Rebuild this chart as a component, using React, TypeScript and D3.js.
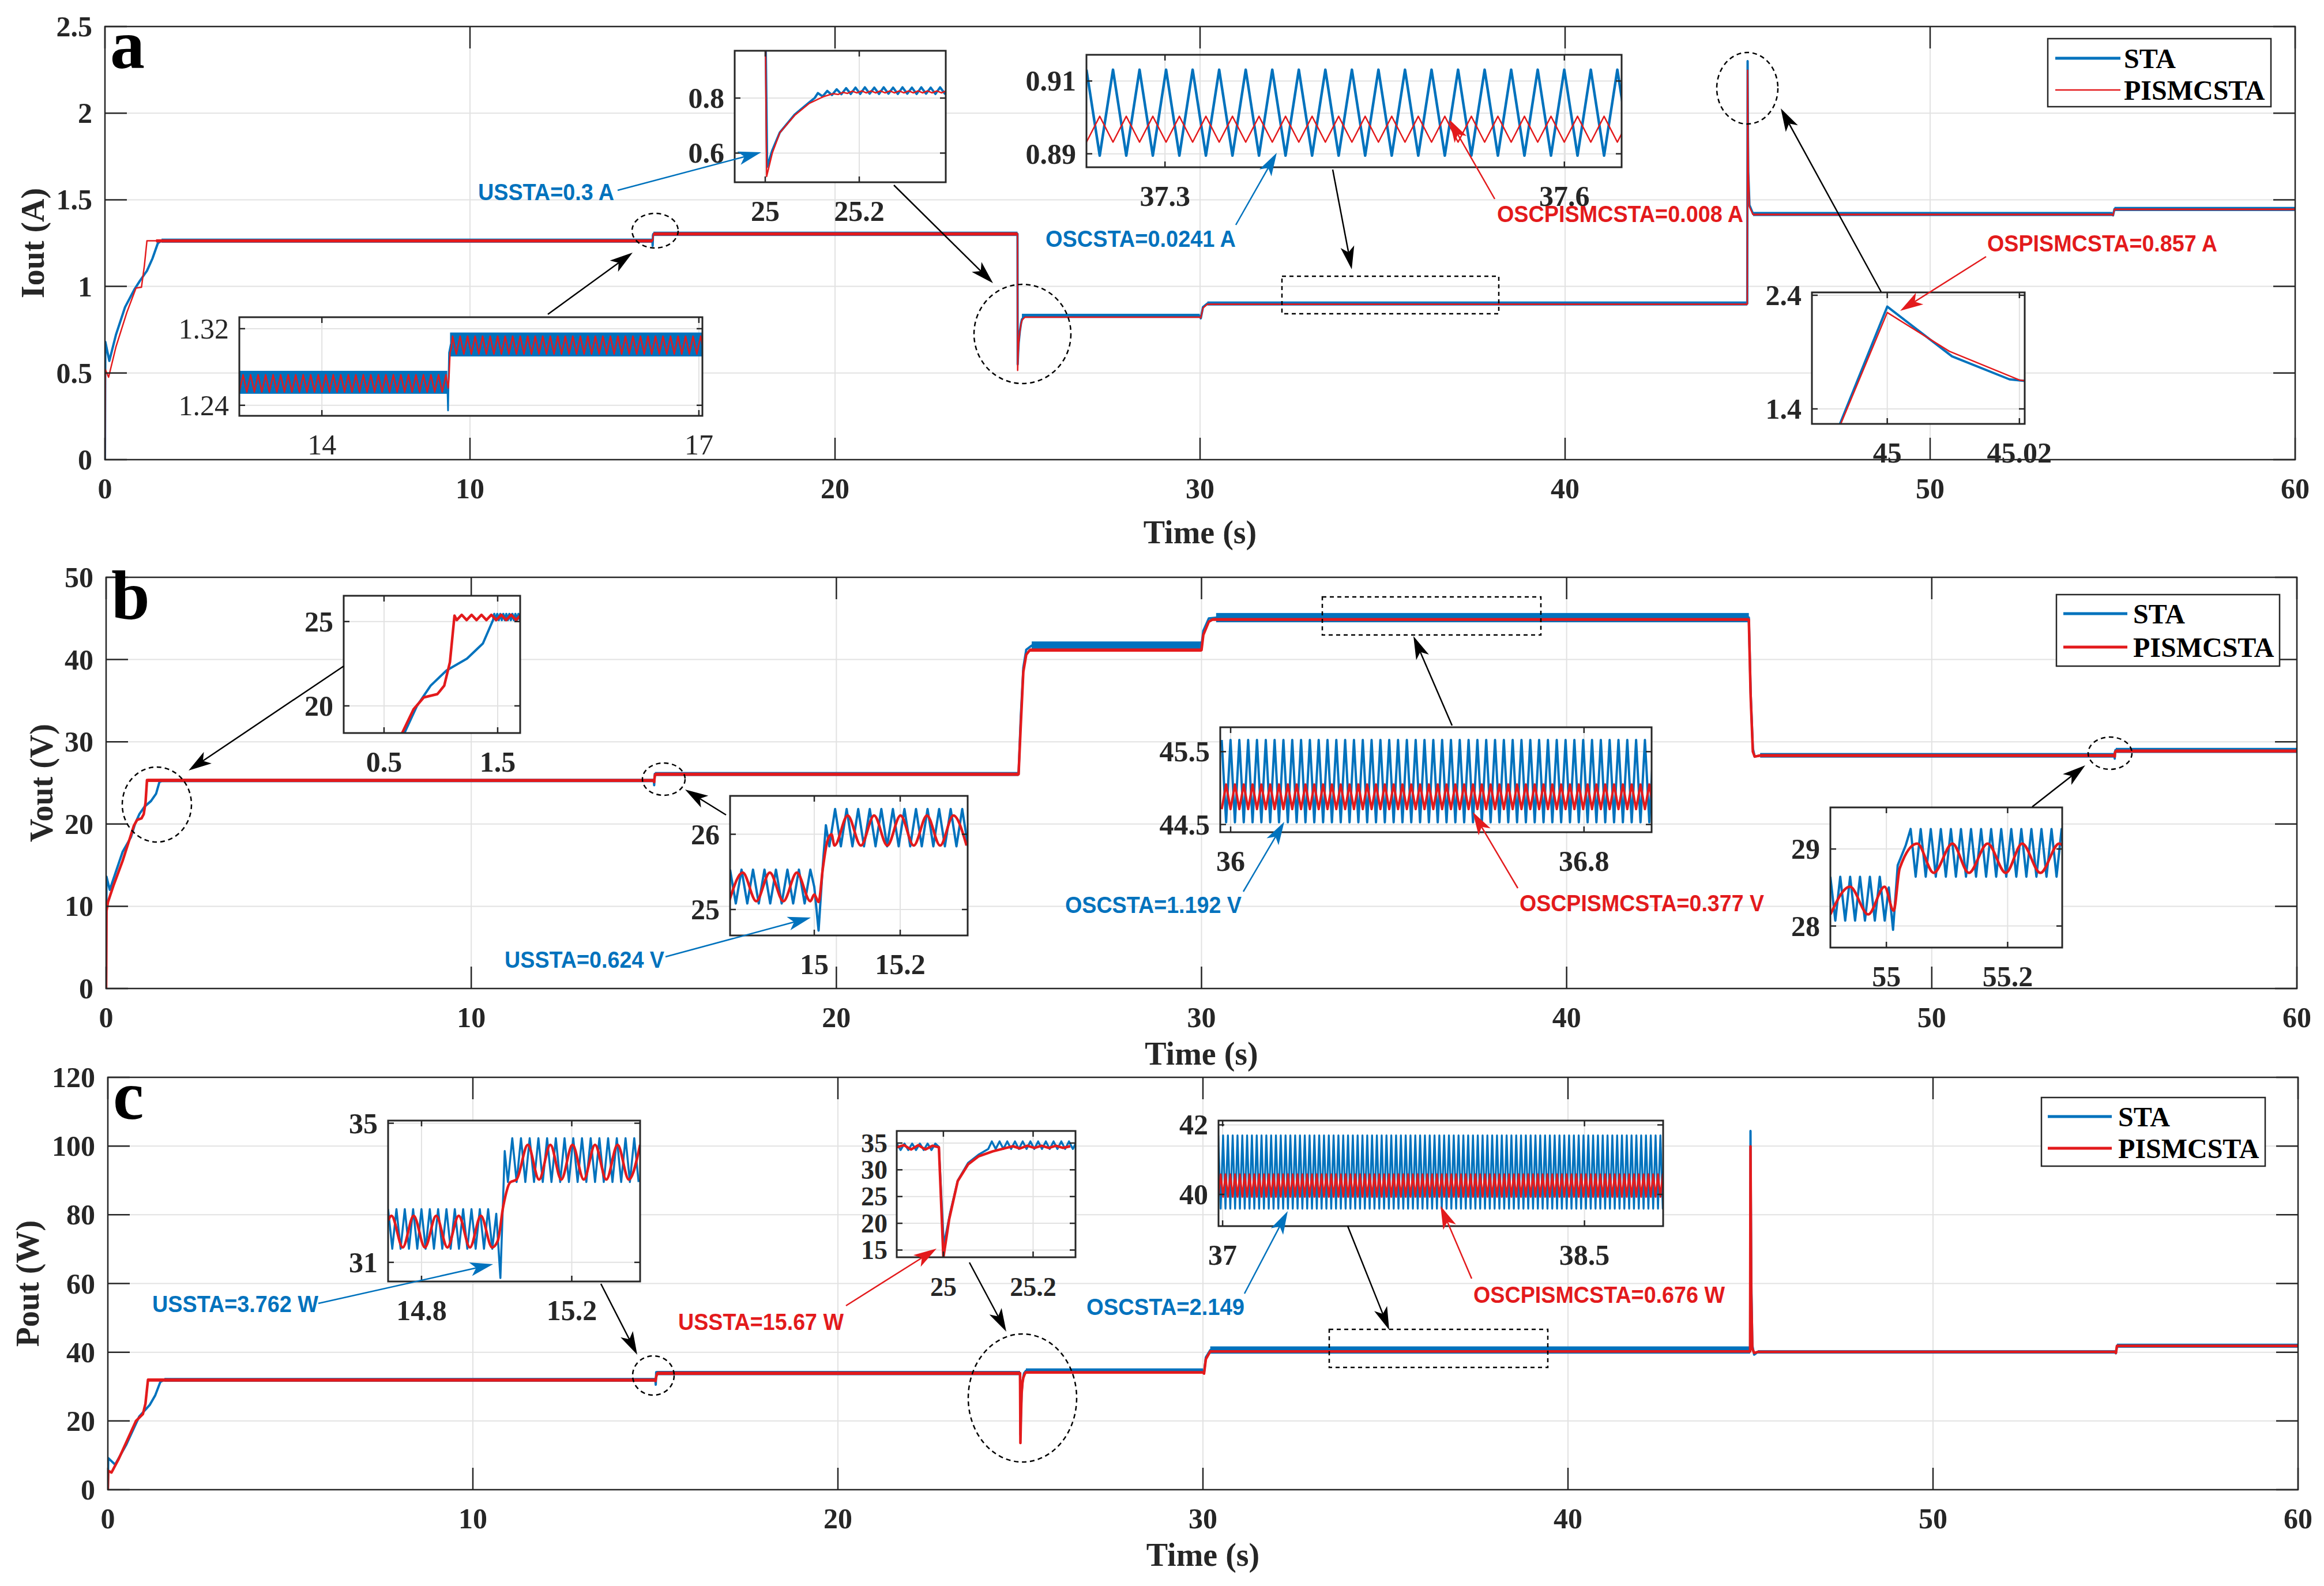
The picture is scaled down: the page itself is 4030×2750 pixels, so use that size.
import React from 'react';
import * as d3 from 'd3';

type Pt = [number, number];
type Band = [number, number, number, number]; // t0, t1, lo, hi (dense ripple drawn as a filled band)
type Zig = { t0: number; dt: number; v: number[] };

// colours and fonts (MATLAB-like)
const BLUE = '#0072BD';
const RED = '#E31A1C';
const INK = '#262626';
const GRID = '#E2E2E2';
const SERIF = '"Times New Roman", "Liberation Serif", serif';
const NARROW = '"Liberation Sans Narrow", "Arial Narrow", "Liberation Sans", Arial, sans-serif';

// axis ticks
const TIME_TICKS = [0, 10, 20, 30, 40, 50, 60];
const IOUT_TICKS = [0, 0.5, 1, 1.5, 2, 2.5];
const VOUT_TICKS = [0, 10, 20, 30, 40, 50];
const POUT_TICKS = [0, 20, 40, 60, 80, 100, 120];
const LEGEND_NAMES = ['STA', 'PISMCSTA'];

// ---------- panel a : Iout ----------
const IOUT_STA: Pt[] = [
  [0, 0], [0.01, 0.68], [0.12, 0.57], [0.3, 0.72], [0.55, 0.88], [0.8, 0.98], [0.95, 1.03], [1.15, 1.09],
  [1.3, 1.16], [1.45, 1.25], [1.55, 1.264], [14.998, 1.264], [15.004, 1.2346], [15.012, 1.295], [15.025, 1.3035],
  [24.999, 1.3035], [25.004, 0.55], [25.015, 0.61], [25.031, 0.675], [25.0625, 0.74], [25.094, 0.785],
  [25.12, 0.81], [25.2, 0.83], [29.99, 0.83], [30.02, 0.816], [30.08, 0.88], [30.2, 0.901], [44.9903, 0.901],
  [45.0, 2.3], [45.0098, 1.862], [45.0185, 1.66], [45.05, 1.47], [45.15, 1.418], [54.99, 1.418], [55.01, 1.41],
  [55.05, 1.447], [60, 1.447],
];
const IOUT_STA_BANDS: Band[] = [
  [1.55, 14.998, 1.252, 1.276], [15.025, 24.999, 1.291, 1.316], [25.12, 29.99, 0.818, 0.842],
  [30.2, 44.99, 0.8895, 0.9131], [45.15, 54.99, 1.406, 1.43], [55.05, 60, 1.435, 1.459],
];
const IOUT_PI: Pt[] = [
  [0, 0], [0.01, 0.52], [0.1, 0.476], [0.3, 0.65], [0.6, 0.85], [0.85, 0.99], [1.0, 0.995], [1.08, 1.12],
  [1.15, 1.263], [14.998, 1.263], [15.01, 1.27], [15.02, 1.295], [15.03, 1.303], [24.999, 1.303],
  [25.003, 0.515], [25.015, 0.6], [25.031, 0.674], [25.0625, 0.737], [25.094, 0.781], [25.125, 0.806],
  [25.2, 0.822], [29.99, 0.822], [30.02, 0.818], [30.08, 0.875], [30.2, 0.897], [44.9903, 0.897],
  [45.0, 2.248], [45.0094, 1.907], [45.02, 1.654], [45.05, 1.46], [45.15, 1.415], [54.99, 1.415],
  [55.01, 1.41], [55.05, 1.445], [60, 1.445],
];
const IOUT_PI_BANDS: Band[] = [
  [1.4, 14.998, 1.2538, 1.2719], [15.03, 24.999, 1.2935, 1.3122], [25.2, 29.99, 0.819, 0.826],
  [30.2, 44.99, 0.893, 0.9003], [45.15, 54.99, 1.41, 1.42], [55.05, 60, 1.44, 1.45],
];

// inset a1 (25 .. 25.2)
const A1_STA_PTS: Pt[] = [[24.999, 1.3035], [25.004, 0.55], [25.015, 0.61], [25.031, 0.675], [25.0625, 0.74], [25.094, 0.785], [25.105, 0.8]];
const A1_STA_RIP: Zig = { t0: 25.112, dt: 0.01, v: [
  0.818, 0.806, 0.826, 0.811, 0.832, 0.814, 0.836, 0.815, 0.838, 0.815, 0.839, 0.816, 0.838, 0.815, 0.839,
  0.816, 0.838, 0.815, 0.839, 0.816, 0.838, 0.815, 0.839, 0.816, 0.838, 0.815, 0.839, 0.816, 0.838] };
const A1_PI_PTS: Pt[] = [[24.999, 1.303], [25.003, 0.515], [25.015, 0.6], [25.031, 0.674], [25.0625, 0.737], [25.094, 0.781], [25.125, 0.806]];
const A1_PI_RIP: Zig = { t0: 25.135, dt: 0.01, v: [
  0.811, 0.816, 0.813, 0.821, 0.817, 0.825, 0.819, 0.826, 0.819, 0.826, 0.819, 0.826, 0.819, 0.826,
  0.819, 0.826, 0.819, 0.826, 0.819, 0.826, 0.819, 0.826, 0.819, 0.826, 0.819, 0.826] };

// inset a2 (37.3 .. 37.6)
const A2_STA: Zig = { t0: 37.241, dt: 0.00997, v: [
  0.9131, 0.8895, 0.9131, 0.8895, 0.9131, 0.8895, 0.9131, 0.8895, 0.9131, 0.8895,
  0.9131, 0.8895, 0.9131, 0.8895, 0.9131, 0.8895, 0.9131, 0.8895, 0.9131, 0.8895,
  0.9131, 0.8895, 0.9131, 0.8895, 0.9131, 0.8895, 0.9131, 0.8895, 0.9131, 0.8895,
  0.9131, 0.8895, 0.9131, 0.8895, 0.9131, 0.8895, 0.9131, 0.8895, 0.9131, 0.8895,
  0.9131, 0.8895] };
const A2_PI: Zig = { t0: 37.241, dt: 0.00997, v: [
  0.8932, 0.9003, 0.8932, 0.9003, 0.8932, 0.9003, 0.8932, 0.9003, 0.8932, 0.9003,
  0.8932, 0.9003, 0.8932, 0.9003, 0.8932, 0.9003, 0.8932, 0.9003, 0.8932, 0.9003,
  0.8932, 0.9003, 0.8932, 0.9003, 0.8932, 0.9003, 0.8932, 0.9003, 0.8932, 0.9003,
  0.8932, 0.9003, 0.8932, 0.9003, 0.8932, 0.9003, 0.8932, 0.9003, 0.8932, 0.9003,
  0.8932, 0.9003] };

// inset a3 (14 .. 17)
const A3_STA_PTS: Pt[] = [[13.343, 1.264], [14.998, 1.264], [15.004, 1.2346], [15.012, 1.295], [15.025, 1.3035], [17.03, 1.3035]];
const A3_STA_BANDS: Band[] = [[13.343, 14.998, 1.252, 1.276], [15.02, 17.03, 1.291, 1.316]];
const A3_PI_PRE: Zig = { t0: 13.343, dt: 0.0299, v: [
  1.2538, 1.2719, 1.2538, 1.2719, 1.2538, 1.2719, 1.2538, 1.2719, 1.2538, 1.2719,
  1.2538, 1.2719, 1.2538, 1.2719, 1.2538, 1.2719, 1.2538, 1.2719, 1.2538, 1.2719,
  1.2538, 1.2719, 1.2538, 1.2719, 1.2538, 1.2719, 1.2538, 1.2719, 1.2538, 1.2719,
  1.2538, 1.2719, 1.2538, 1.2719, 1.2538, 1.2719, 1.2538, 1.2719, 1.2538, 1.2719,
  1.2538, 1.2719, 1.2538, 1.2719, 1.2538, 1.2719, 1.2538, 1.2719, 1.2538, 1.2719,
  1.2538, 1.2719, 1.2538, 1.2719, 1.2538, 1.2719] };
const A3_PI_MID: Pt[] = [[15.005, 1.258], [15.012, 1.27], [15.02, 1.295], [15.03, 1.3]];
const A3_PI_POST: Zig = { t0: 15.04, dt: 0.0299, v: [
  1.3122, 1.2935, 1.3122, 1.2935, 1.3122, 1.2935, 1.3122, 1.2935, 1.3122, 1.2935,
  1.3122, 1.2935, 1.3122, 1.2935, 1.3122, 1.2935, 1.3122, 1.2935, 1.3122, 1.2935,
  1.3122, 1.2935, 1.3122, 1.2935, 1.3122, 1.2935, 1.3122, 1.2935, 1.3122, 1.2935,
  1.3122, 1.2935, 1.3122, 1.2935, 1.3122, 1.2935, 1.3122, 1.2935, 1.3122, 1.2935,
  1.3122, 1.2935, 1.3122, 1.2935, 1.3122, 1.2935, 1.3122, 1.2935, 1.3122, 1.2935,
  1.3122, 1.2935, 1.3122, 1.2935, 1.3122, 1.2935, 1.3122, 1.2935, 1.3122, 1.2935,
  1.3122, 1.2935, 1.3122, 1.2935, 1.3122, 1.2935, 1.3122, 1.2935] };

// ---------- panel b : Vout ----------
const VOUT_STA: Pt[] = [
  [0, 0], [0.01, 13.6], [0.1, 12.0], [0.45, 16.6], [0.68, 18.4], [0.79, 20.0], [0.91, 21.2], [1.05, 22.1],
  [1.23, 22.8], [1.37, 23.7], [1.46, 25.1], [1.55, 25.3], [15.004, 25.3], [15.01, 24.72], [15.02, 25.6],
  [15.027, 26.1], [24.99, 26.1], [25.05, 33], [25.12, 39], [25.2, 41.2], [25.35, 41.7], [30.0, 41.7],
  [30.05, 43.5], [30.2, 45.0], [30.4, 45.1], [44.99, 45.1], [45.04, 36], [45.1, 29.2], [45.15, 28.2],
  [45.3, 28.35], [55.004, 28.35], [55.011, 27.95], [55.0187, 28.79], [55.032, 29.0], [60, 28.95],
];
const VOUT_STA_BANDS: Band[] = [
  [1.47, 15, 25.08, 25.5], [15.035, 24.99, 25.84, 26.33], [25.35, 30, 41.2, 42.2],
  [30.4, 44.99, 44.53, 45.66], [45.3, 55, 28.07, 28.64], [55.04, 60, 28.64, 29.26],
];
const VOUT_PI: Pt[] = [
  [0, 0], [0.01, 9.4], [0.05, 10.5], [0.2, 12.5], [0.45, 15.5], [0.66, 18.4], [0.76, 19.8], [0.85, 20.5],
  [0.97, 20.7], [1.03, 21.2], [1.08, 22.6], [1.12, 25.35], [15.0, 25.3], [15.01, 25.1], [15.02, 25.55],
  [15.03, 25.9], [15.04, 26.05], [24.99, 26.05], [25.05, 32], [25.12, 38.5], [25.2, 40.6], [25.3, 41.15],
  [30, 41.15], [30.05, 43], [30.2, 44.6], [30.3, 44.86], [44.99, 44.86], [45.04, 35.5], [45.1, 28.8],
  [45.15, 28.2], [45.3, 28.33], [54.997, 28.33], [55.012, 28.2], [55.02, 28.75], [55.051, 28.88], [60, 28.88],
];
const VOUT_PI_BANDS: Band[] = [
  [1.14, 15, 25.11, 25.49], [15.047, 24.99, 25.85, 26.25], [25.3, 30, 40.95, 41.35],
  [30.3, 44.99, 44.71, 45.05], [45.3, 55, 28.15, 28.51], [55.051, 60, 28.69, 29.07],
];

// inset b1 (0.5 .. 1.5)
const B1_STA_PTS: Pt[] = [[0.45, 16.6], [0.68, 18.4], [0.79, 20.0], [0.91, 21.2], [1.05, 22.1], [1.23, 22.8], [1.37, 23.7], [1.46, 25.1]];
const B1_STA_RIP: Zig = { t0: 1.47, dt: 0.0133, v: [
  25.45, 25.09, 25.45, 25.09, 25.45, 25.09, 25.45, 25.09, 25.45, 25.09,
  25.45, 25.09, 25.45, 25.09, 25.45, 25.09, 25.45, 25.09, 25.45] };
const B1_PI_PTS: Pt[] = [[0.45, 15.5], [0.66, 18.4], [0.76, 19.8], [0.85, 20.5], [0.97, 20.7], [1.03, 21.2], [1.08, 22.6], [1.12, 25.35]];
const B1_PI_RIP: Zig = { t0: 1.14, dt: 0.0435, v: [
  25.09, 25.4, 25.09, 25.4, 25.09, 25.4, 25.09, 25.4, 25.09, 25.4, 25.09, 25.4, 25.09, 25.4] };

// inset b2 (15 .. 15.2)
const B2_STA_PRE: Zig = { t0: 14.804, dt: 0.01335, v: [
  25.53, 25.08, 25.53, 25.08, 25.53, 25.08, 25.53, 25.08, 25.53, 25.08, 25.53, 25.08, 25.53, 25.08, 25.53] };
const B2_STA_MID: Pt[] = [[15.0, 25.3], [15.01, 24.72], [15.02, 25.6], [15.027, 26.12]];
const B2_STA_POST: Zig = { t0: 15.035, dt: 0.01345, v: [
  25.84, 26.335, 25.84, 26.335, 25.84, 26.335, 25.84, 26.335, 25.84, 26.335,
  25.84, 26.335, 25.84, 26.335, 25.84, 26.335, 25.84, 26.335, 25.84, 26.335,
  25.84, 26.335, 25.84, 26.335, 25.84] };
const B2_PI_PRE: Zig = { t0: 14.802, dt: 0.0315, v: [25.11, 25.49, 25.11, 25.49, 25.11, 25.49, 25.11] };
const B2_PI_MID: Pt[] = [[15.0, 25.2], [15.01, 25.1], [15.02, 25.55], [15.03, 25.9], [15.04, 26.0]];
const B2_PI_POST: Zig = { t0: 15.047, dt: 0.03075, v: [25.85, 26.25, 25.85, 26.25, 25.85, 26.25, 25.85, 26.25, 25.85, 26.25, 25.85] };

// inset b3 (36 .. 36.8)
const B3_STA: Zig = { t0: 35.9798, dt: 0.00998, v: [
  45.66, 44.53, 45.66, 44.53, 45.66, 44.53, 45.66, 44.53, 45.66, 44.53, 45.66, 44.53, 45.66, 44.53, 45.66, 44.53, 45.66, 44.53, 45.66, 44.53,
  45.66, 44.53, 45.66, 44.53, 45.66, 44.53, 45.66, 44.53, 45.66, 44.53, 45.66, 44.53, 45.66, 44.53, 45.66, 44.53, 45.66, 44.53, 45.66, 44.53,
  45.66, 44.53, 45.66, 44.53, 45.66, 44.53, 45.66, 44.53, 45.66, 44.53, 45.66, 44.53, 45.66, 44.53, 45.66, 44.53, 45.66, 44.53, 45.66, 44.53,
  45.66, 44.53, 45.66, 44.53, 45.66, 44.53, 45.66, 44.53, 45.66, 44.53, 45.66, 44.53, 45.66, 44.53, 45.66, 44.53, 45.66, 44.53, 45.66, 44.53,
  45.66, 44.53, 45.66, 44.53, 45.66, 44.53, 45.66, 44.53, 45.66, 44.53, 45.66, 44.53, 45.66, 44.53, 45.66, 44.53, 45.66, 44.53, 45.66] };
const B3_PI: Zig = { t0: 35.9798, dt: 0.00998, v: [
  44.71, 45.05, 44.71, 45.05, 44.71, 45.05, 44.71, 45.05, 44.71, 45.05, 44.71, 45.05, 44.71, 45.05, 44.71, 45.05, 44.71, 45.05, 44.71, 45.05,
  44.71, 45.05, 44.71, 45.05, 44.71, 45.05, 44.71, 45.05, 44.71, 45.05, 44.71, 45.05, 44.71, 45.05, 44.71, 45.05, 44.71, 45.05, 44.71, 45.05,
  44.71, 45.05, 44.71, 45.05, 44.71, 45.05, 44.71, 45.05, 44.71, 45.05, 44.71, 45.05, 44.71, 45.05, 44.71, 45.05, 44.71, 45.05, 44.71, 45.05,
  44.71, 45.05, 44.71, 45.05, 44.71, 45.05, 44.71, 45.05, 44.71, 45.05, 44.71, 45.05, 44.71, 45.05, 44.71, 45.05, 44.71, 45.05, 44.71, 45.05,
  44.71, 45.05, 44.71, 45.05, 44.71, 45.05, 44.71, 45.05, 44.71, 45.05, 44.71, 45.05, 44.71, 45.05, 44.71, 45.05, 44.71, 45.05, 44.71] };

// inset b4 (55 .. 55.2)
const B4_STA_PRE: Zig = { t0: 54.9076, dt: 0.00815, v: [28.64, 28.07, 28.64, 28.07, 28.64, 28.07, 28.64, 28.07, 28.64, 28.07, 28.64, 28.07] };
const B4_STA_MID: Pt[] = [[55.004, 28.5], [55.011, 27.95], [55.0187, 28.79], [55.032, 29.05]];
const B4_STA_POST: Zig = { t0: 55.04, dt: 0.0083, v: [
  29.26, 28.64, 29.26, 28.64, 29.26, 28.64, 29.26, 28.64, 29.26, 28.64, 29.26, 28.64, 29.26, 28.64, 29.26, 28.64,
  29.26, 28.64, 29.26, 28.64, 29.26, 28.64, 29.26, 28.64, 29.26, 28.64, 29.26, 28.64, 29.26, 28.64, 29.26, 28.64] };
const B4_PI: Pt[] = [
  [54.9076, 28.15], [54.94, 28.51], [54.97, 28.15], [54.997, 28.51], [55.012, 28.2], [55.022, 28.75],
  [55.051, 29.07], [55.078, 28.69], [55.109, 29.07], [55.136, 28.69], [55.167, 29.07], [55.197, 28.69],
  [55.224, 29.07], [55.254, 28.69], [55.285, 29.07], [55.3, 28.95],
];

// ---------- panel c : Pout ----------
const POUT_STA: Pt[] = [
  [0, 0], [0.01, 9.2], [0.2, 7.3], [0.5, 13], [0.86, 21.3], [1.15, 24.7], [1.3, 27.5], [1.44, 31.4],
  [1.55, 31.96], [14.999, 31.96], [15.01, 30.55], [15.0215, 34.2], [15.03, 33.94], [24.99, 33.94],
  [25.001, 16.0], [25.015, 22.0], [25.032, 28.0], [25.055, 31.3], [25.078, 32.8], [25.1, 33.9],
  [25.15, 34.6], [30, 34.6], [30.03, 34.0], [30.08, 38.5], [30.2, 40.6], [44.99, 40.65], [45.0, 104.4],
  [45.02, 62], [45.05, 42], [45.1, 39.3], [45.2, 40.1], [55, 40.1], [55.01, 39.7], [55.04, 41.9], [60, 41.9],
];
const POUT_STA_BANDS: Band[] = [
  [1.55, 15, 31.39, 32.53], [15.03, 24.99, 33.31, 34.57], [25.15, 30, 33.9, 35.3],
  [30.2, 44.99, 39.59, 41.7], [45.2, 55, 39.6, 40.6], [55.04, 60, 41.3, 42.5],
];
const POUT_PI: Pt[] = [
  [0, 0], [0.01, 5.5], [0.1, 5.0], [0.3, 9], [0.77, 20], [0.96, 22], [1.03, 25], [1.1, 32],
  [14.988, 31.9], [15.003, 31.62], [15.0177, 32.62], [15.036, 33.38], [15.053, 33.88], [24.99, 33.88],
  [25.0, 13.6], [25.013, 20.8], [25.032, 27.9], [25.055, 31.0], [25.078, 32.5], [25.11, 33.45],
  [25.14, 34.1], [30, 34.1], [30.03, 33.8], [30.08, 38], [30.2, 40.25], [44.99, 40.25], [45.0, 99.9],
  [45.02, 57], [45.05, 41], [45.1, 39.8], [45.2, 40.1], [55, 40.1], [55.01, 39.8], [55.04, 41.85], [60, 41.85],
];
const POUT_PI_BANDS: Band[] = [
  [1.1, 15, 31.43, 32.34], [15.053, 24.99, 33.38, 34.38], [25.14, 30, 33.9, 34.5],
  [30.2, 44.99, 39.93, 40.58], [45.2, 55, 39.8, 40.4], [55.04, 60, 41.5, 42.2],
];

// inset c1 (14.8 .. 15.2)
const C1_STA_PRE: Zig = { t0: 14.711, dt: 0.0111, v: [
  32.53, 31.39, 32.53, 31.39, 32.53, 31.39, 32.53, 31.39, 32.53, 31.39, 32.53, 31.39, 32.53,
  31.39, 32.53, 31.39, 32.53, 31.39, 32.53, 31.39, 32.53, 31.39, 32.53, 31.39, 32.53, 31.39] };
const C1_STA_MID: Pt[] = [[14.999, 32.4], [15.01, 30.55], [15.0215, 34.2]];
const C1_STA_POST: Zig = { t0: 15.03, dt: 0.0116, v: [
  33.31, 34.57, 33.31, 34.57, 33.31, 34.57, 33.31, 34.57, 33.31, 34.57, 33.31, 34.57, 33.31, 34.57, 33.31, 34.57,
  33.31, 34.57, 33.31, 34.57, 33.31, 34.57, 33.31, 34.57, 33.31, 34.57, 33.31, 34.57, 33.31, 34.57, 33.31] };
const C1_PI: Pt[] = [
  [14.711, 32.2], [14.72, 32.34], [14.75, 31.43], [14.779, 32.34], [14.809, 31.43], [14.839, 32.34],
  [14.869, 31.43], [14.899, 32.34], [14.929, 31.43], [14.958, 32.34], [14.988, 31.43], [15.003, 31.62],
  [15.0177, 32.62], [15.036, 33.3], [15.053, 33.38], [15.083, 34.38], [15.113, 33.38], [15.143, 34.38],
  [15.172, 33.38], [15.202, 34.38], [15.232, 33.38], [15.262, 34.38], [15.292, 33.38], [15.322, 34.38],
  [15.352, 33.38], [15.382, 34.38],
];

// inset c2 (25 .. 25.2)
const C2_STA_PRE: Zig = { t0: 24.896, dt: 0.0086, v: [34.9, 33.7, 34.9, 33.7, 34.9, 33.7, 34.9, 33.7, 34.9, 33.7, 34.9] };
const C2_STA_MID: Pt[] = [[24.99, 34.3], [25.001, 16.0], [25.015, 22.0], [25.032, 28.0], [25.055, 31.3], [25.078, 32.8], [25.1, 33.9]];
const C2_STA_POST: Zig = { t0: 25.108, dt: 0.0086, v: [
  35.3, 33.9, 35.3, 33.9, 35.3, 33.9, 35.3, 33.9, 35.3, 33.9, 35.3, 33.9,
  35.3, 33.9, 35.3, 33.9, 35.3, 33.9, 35.3, 33.9, 35.3, 33.9, 35.3] };
const C2_PI_PRE: Zig = { t0: 24.896, dt: 0.016, v: [34.2, 34.6, 33.8, 34.6, 33.8, 34.5] };
const C2_PI_MID: Pt[] = [[24.99, 34.2], [25.0, 13.6], [25.013, 20.8], [25.032, 27.9], [25.055, 31.0], [25.078, 32.5], [25.11, 33.45], [25.14, 34.1]];
const C2_PI_POST: Zig = { t0: 25.155, dt: 0.016, v: [34.4, 34.0, 34.5, 34.1, 34.5, 34.1, 34.5, 34.1, 34.4] };

// inset c3 (37 .. 38.5)
const C3_STA: Zig = { t0: 36.982, dt: 0.00996, v: [
  41.7, 39.59, 41.7, 39.59, 41.7, 39.59, 41.7, 39.59, 41.7, 39.59, 41.7, 39.59, 41.7, 39.59, 41.7, 39.59, 41.7, 39.59, 41.7, 39.59,
  41.7, 39.59, 41.7, 39.59, 41.7, 39.59, 41.7, 39.59, 41.7, 39.59, 41.7, 39.59, 41.7, 39.59, 41.7, 39.59, 41.7, 39.59, 41.7, 39.59,
  41.7, 39.59, 41.7, 39.59, 41.7, 39.59, 41.7, 39.59, 41.7, 39.59, 41.7, 39.59, 41.7, 39.59, 41.7, 39.59, 41.7, 39.59, 41.7, 39.59,
  41.7, 39.59, 41.7, 39.59, 41.7, 39.59, 41.7, 39.59, 41.7, 39.59, 41.7, 39.59, 41.7, 39.59, 41.7, 39.59, 41.7, 39.59, 41.7, 39.59,
  41.7, 39.59, 41.7, 39.59, 41.7, 39.59, 41.7, 39.59, 41.7, 39.59, 41.7, 39.59, 41.7, 39.59, 41.7, 39.59, 41.7, 39.59, 41.7, 39.59,
  41.7, 39.59, 41.7, 39.59, 41.7, 39.59, 41.7, 39.59, 41.7, 39.59, 41.7, 39.59, 41.7, 39.59, 41.7, 39.59, 41.7, 39.59, 41.7, 39.59,
  41.7, 39.59, 41.7, 39.59, 41.7, 39.59, 41.7, 39.59, 41.7, 39.59, 41.7, 39.59, 41.7, 39.59, 41.7, 39.59, 41.7, 39.59, 41.7, 39.59,
  41.7, 39.59, 41.7, 39.59, 41.7, 39.59, 41.7, 39.59, 41.7, 39.59, 41.7, 39.59, 41.7, 39.59, 41.7, 39.59, 41.7, 39.59, 41.7, 39.59,
  41.7, 39.59, 41.7, 39.59, 41.7, 39.59, 41.7, 39.59, 41.7, 39.59, 41.7, 39.59, 41.7, 39.59, 41.7, 39.59, 41.7, 39.59, 41.7, 39.59,
  41.7, 39.59, 41.7, 39.59, 41.7, 39.59, 41.7] };
const C3_PI: Zig = { t0: 36.982, dt: 0.00996, v: [
  39.93, 40.58, 39.93, 40.58, 39.93, 40.58, 39.93, 40.58, 39.93, 40.58, 39.93, 40.58, 39.93, 40.58, 39.93, 40.58, 39.93, 40.58, 39.93, 40.58,
  39.93, 40.58, 39.93, 40.58, 39.93, 40.58, 39.93, 40.58, 39.93, 40.58, 39.93, 40.58, 39.93, 40.58, 39.93, 40.58, 39.93, 40.58, 39.93, 40.58,
  39.93, 40.58, 39.93, 40.58, 39.93, 40.58, 39.93, 40.58, 39.93, 40.58, 39.93, 40.58, 39.93, 40.58, 39.93, 40.58, 39.93, 40.58, 39.93, 40.58,
  39.93, 40.58, 39.93, 40.58, 39.93, 40.58, 39.93, 40.58, 39.93, 40.58, 39.93, 40.58, 39.93, 40.58, 39.93, 40.58, 39.93, 40.58, 39.93, 40.58,
  39.93, 40.58, 39.93, 40.58, 39.93, 40.58, 39.93, 40.58, 39.93, 40.58, 39.93, 40.58, 39.93, 40.58, 39.93, 40.58, 39.93, 40.58, 39.93, 40.58,
  39.93, 40.58, 39.93, 40.58, 39.93, 40.58, 39.93, 40.58, 39.93, 40.58, 39.93, 40.58, 39.93, 40.58, 39.93, 40.58, 39.93, 40.58, 39.93, 40.58,
  39.93, 40.58, 39.93, 40.58, 39.93, 40.58, 39.93, 40.58, 39.93, 40.58, 39.93, 40.58, 39.93, 40.58, 39.93, 40.58, 39.93, 40.58, 39.93, 40.58,
  39.93, 40.58, 39.93, 40.58, 39.93, 40.58, 39.93, 40.58, 39.93, 40.58, 39.93, 40.58, 39.93, 40.58, 39.93, 40.58, 39.93, 40.58, 39.93, 40.58,
  39.93, 40.58, 39.93, 40.58, 39.93, 40.58, 39.93, 40.58, 39.93, 40.58, 39.93, 40.58, 39.93, 40.58, 39.93, 40.58, 39.93, 40.58, 39.93, 40.58,
  39.93, 40.58, 39.93, 40.58, 39.93, 40.58, 39.93] };

// sample grid -> points
const zig = (z: Zig): Pt[] => z.v.map((v, i) => [z.t0 + i * z.dt, v] as Pt);

interface Series { pts: Pt[]; color: string; width: number; smooth?: boolean; bands?: Band[] }
interface AxesSpec {
  id: string;
  box: [number, number, number, number]; // left, top, right, bottom (px)
  xDom: [number, number];
  yDom: [number, number];
  xTicks: number[];
  yTicks: number[];
  tickLen: number;
  font: number;
  weight?: string;
  yGap: number;
  opaque: boolean;
  series: Series[];
}

const MAIN: (AxesSpec & { letter: string; ylabel: string; ylabelX: number; xlabelY: number })[] = [
  {
    id: 'pa', box: [182, 46, 3980, 797], xDom: [0, 60], yDom: [0, 2.5], xTicks: TIME_TICKS, yTicks: IOUT_TICKS,
    tickLen: 38, font: 50, yGap: 22, opaque: true, letter: 'a', ylabel: 'Iout (A)', ylabelX: 57, xlabelY: 942,
    series: [
      { pts: IOUT_STA, bands: IOUT_STA_BANDS, color: BLUE, width: 4 },
      { pts: IOUT_PI, bands: IOUT_PI_BANDS, color: RED, width: 2.5 },
    ],
  },
  {
    id: 'pb', box: [184, 1001, 3983, 1714], xDom: [0, 60], yDom: [0, 50], xTicks: TIME_TICKS, yTicks: VOUT_TICKS,
    tickLen: 38, font: 50, yGap: 22, opaque: true, letter: 'b', ylabel: 'Vout (V)', ylabelX: 72, xlabelY: 1846,
    series: [
      { pts: VOUT_STA, bands: VOUT_STA_BANDS, color: BLUE, width: 4 },
      { pts: VOUT_PI, bands: VOUT_PI_BANDS, color: RED, width: 4.5 },
    ],
  },
  {
    id: 'pc', box: [187, 1868, 3985, 2583], xDom: [0, 60], yDom: [0, 120], xTicks: TIME_TICKS, yTicks: POUT_TICKS,
    tickLen: 38, font: 50, yGap: 22, opaque: true, letter: 'c', ylabel: 'Pout (W)', ylabelX: 48, xlabelY: 2715,
    series: [
      { pts: POUT_STA, bands: POUT_STA_BANDS, color: BLUE, width: 4 },
      { pts: POUT_PI, bands: POUT_PI_BANDS, color: RED, width: 4.5 },
    ],
  },
];

const INSETS: AxesSpec[] = [
  {
    id: 'a1', box: [1274, 88, 1640, 316], xDom: [24.935, 25.384], yDom: [0.494, 0.972], xTicks: [25, 25.2], yTicks: [0.6, 0.8],
    tickLen: 10, font: 50, yGap: 18, opaque: true,
    series: [
      { pts: [...A1_STA_PTS, ...zig(A1_STA_RIP)], color: BLUE, width: 4 },
      { pts: [...A1_PI_PTS, ...zig(A1_PI_RIP)], color: RED, width: 2.5 },
    ],
  },
  {
    id: 'a2', box: [1884, 95, 2812, 290], xDom: [37.241, 37.643], yDom: [0.8863, 0.9172], xTicks: [37.3, 37.6], yTicks: [0.89, 0.91],
    tickLen: 10, font: 50, yGap: 18, opaque: false,
    series: [
      { pts: zig(A2_STA), color: BLUE, width: 4.5 },
      { pts: zig(A2_PI), color: RED, width: 2.5 },
    ],
  },
  {
    id: 'a3', box: [415, 550, 1218, 721], xDom: [13.343, 17.028], yDom: [1.229, 1.332], xTicks: [14, 17], yTicks: [1.24, 1.32],
    tickLen: 10, font: 50, weight: 'normal', yGap: 18, opaque: true,
    series: [
      { pts: A3_STA_PTS, bands: A3_STA_BANDS, color: BLUE, width: 3 },
      { pts: [...zig(A3_PI_PRE), ...A3_PI_MID, ...zig(A3_PI_POST)], color: RED, width: 2.5 },
    ],
  },
  {
    id: 'a4', box: [3142, 507, 3511, 735], xDom: [44.9886, 45.0208], yDom: [1.268, 2.425], xTicks: [45, 45.02], yTicks: [1.4, 2.4],
    tickLen: 10, font: 50, yGap: 18, opaque: true,
    series: [
      { pts: IOUT_STA, color: BLUE, width: 4 },
      { pts: IOUT_PI, color: RED, width: 2.5 },
    ],
  },
  {
    id: 'b1', box: [596, 1033, 902, 1271], xDom: [0.145, 1.698], yDom: [18.39, 26.53], xTicks: [0.5, 1.5], yTicks: [20, 25],
    tickLen: 10, font: 50, yGap: 18, opaque: true,
    series: [
      { pts: [...B1_STA_PTS, ...zig(B1_STA_RIP)], color: BLUE, width: 4 },
      { pts: [...B1_PI_PTS, ...zig(B1_PI_RIP)], color: RED, width: 4.5 },
    ],
  },
  {
    id: 'b2', box: [1266, 1380, 1678, 1622], xDom: [14.804, 15.357], yDom: [24.655, 26.51], xTicks: [15, 15.2], yTicks: [25, 26],
    tickLen: 10, font: 50, yGap: 18, opaque: true,
    series: [
      { pts: [...zig(B2_STA_PRE), ...B2_STA_MID, ...zig(B2_STA_POST)], color: BLUE, width: 4 },
      { pts: [...zig(B2_PI_PRE), ...B2_PI_MID, ...zig(B2_PI_POST)], color: RED, width: 4.5, smooth: true },
    ],
  },
  {
    id: 'b3', box: [2116, 1261, 2864, 1443], xDom: [35.9765, 36.953], yDom: [44.394, 45.835], xTicks: [36, 36.8], yTicks: [44.5, 45.5],
    tickLen: 10, font: 50, yGap: 18, opaque: true,
    series: [
      { pts: zig(B3_STA), color: BLUE, width: 4 },
      { pts: zig(B3_PI), color: RED, width: 4 },
    ],
  },
  {
    id: 'b4', box: [3174, 1400, 3576, 1643], xDom: [54.9076, 55.29], yDom: [27.72, 29.54], xTicks: [55, 55.2], yTicks: [28, 29],
    tickLen: 10, font: 50, yGap: 18, opaque: true,
    series: [
      { pts: [...zig(B4_STA_PRE), ...B4_STA_MID, ...zig(B4_STA_POST)], color: BLUE, width: 4 },
      { pts: B4_PI, color: RED, width: 4.5, smooth: true },
    ],
  },
  {
    id: 'c1', box: [673, 1943, 1110, 2222], xDom: [14.711, 15.382], yDom: [30.45, 35.076], xTicks: [14.8, 15.2], yTicks: [31, 35],
    tickLen: 10, font: 50, yGap: 18, opaque: true,
    series: [
      { pts: [...zig(C1_STA_PRE), ...C1_STA_MID, ...zig(C1_STA_POST)], color: BLUE, width: 3.5 },
      { pts: C1_PI, color: RED, width: 4.5, smooth: true },
    ],
  },
  {
    id: 'c2', box: [1555, 1961, 1865, 2180], xDom: [24.896, 25.2945], yDom: [13.65, 37.26], xTicks: [25, 25.2], yTicks: [15, 20, 25, 30, 35],
    tickLen: 10, font: 46, yGap: 16, opaque: true,
    series: [
      { pts: [...zig(C2_STA_PRE), ...C2_STA_MID, ...zig(C2_STA_POST)], color: BLUE, width: 3.5 },
      { pts: [...zig(C2_PI_PRE), ...C2_PI_MID, ...zig(C2_PI_POST)], color: RED, width: 4.5 },
    ],
  },
  {
    id: 'c3', box: [2113, 1943, 2884, 2126], xDom: [36.983, 38.826], yDom: [39.088, 42.124], xTicks: [37, 38.5], yTicks: [40, 42],
    tickLen: 10, font: 50, yGap: 18, opaque: true,
    series: [
      { pts: zig(C3_STA), color: BLUE, width: 3.3 },
      { pts: zig(C3_PI), color: RED, width: 3.3 },
    ],
  },
];

// legends: box, sample line x-range, text x, row centres, line widths
const LEGENDS = [
  { box: [3551, 67, 3938, 185], lx: [3564, 3677], tx: 3683, rows: [101, 156], widths: [5, 2.5] },
  { box: [3566, 1031, 3953, 1155], lx: [3578, 3689], tx: 3699, rows: [1064, 1122], widths: [5, 5] },
  { box: [3540, 1903, 3928, 2022], lx: [3551, 3662], tx: 3673, rows: [1936, 1991], widths: [5, 5] },
];

// annotations (figure pixel layout)
const NOTES: { text: string; x: number; y: number; w: number; color: string }[] = [
  { text: 'USSTA=0.3 A', x: 829, y: 347, w: 236, color: BLUE },
  { text: 'OSCSTA=0.0241 A', x: 1813, y: 428, w: 330, color: BLUE },
  { text: 'OSCPISMCSTA=0.008 A', x: 2596, y: 385, w: 427, color: RED },
  { text: 'OSPISMCSTA=0.857 A', x: 3446, y: 436, w: 399, color: RED },
  { text: 'USSTA=0.624 V', x: 875, y: 1678, w: 277, color: BLUE },
  { text: 'OSCSTA=1.192 V', x: 1847, y: 1583, w: 306, color: BLUE },
  { text: 'OSCPISMCSTA=0.377 V', x: 2635, y: 1580, w: 424, color: RED },
  { text: 'USSTA=3.762 W', x: 264, y: 2275, w: 288, color: BLUE },
  { text: 'USSTA=15.67 W', x: 1176, y: 2306, w: 287, color: RED },
  { text: 'OSCSTA=2.149', x: 1884, y: 2280, w: 274, color: BLUE },
  { text: 'OSCPISMCSTA=0.676 W', x: 2555, y: 2259, w: 436, color: RED },
];
const ARROWS: { p: [number, number, number, number]; color: string }[] = [
  { p: [950, 545, 1097, 438], color: '#000' },
  { p: [1550, 321, 1722, 491], color: '#000' },
  { p: [1071, 330, 1320, 264], color: BLUE },
  { p: [2311, 294, 2344, 467], color: '#000' },
  { p: [2143, 390, 2214, 265], color: BLUE },
  { p: [2592, 345, 2513, 207], color: RED },
  { p: [3262, 506, 3088, 188], color: '#000' },
  { p: [3444, 445, 3295, 539], color: RED },
  { p: [596, 1155, 327, 1336], color: '#000' },
  { p: [1259, 1413, 1188, 1369], color: '#000' },
  { p: [1154, 1659, 1406, 1591], color: BLUE },
  { p: [2518, 1258, 2451, 1103], color: '#000' },
  { p: [2156, 1546, 2227, 1425], color: BLUE },
  { p: [2632, 1540, 2554, 1408], color: RED },
  { p: [3524, 1399, 3616, 1327], color: '#000' },
  { p: [552, 2260, 855, 2192], color: BLUE },
  { p: [1042, 2226, 1105, 2349], color: '#000' },
  { p: [1467, 2264, 1624, 2165], color: RED },
  { p: [1681, 2189, 1745, 2309], color: '#000' },
  { p: [2158, 2243, 2233, 2100], color: BLUE },
  { p: [2552, 2217, 2498, 2091], color: RED },
  { p: [2337, 2126, 2409, 2306], color: '#000' },
];
const ELLIPSES: [number, number, number, number][] = [
  [1136, 400, 40, 30], [1773, 579, 84, 86], [3030, 153, 53, 62],
  [272, 1395, 60, 65], [1151, 1351, 37, 28], [3659, 1306, 38, 28],
  [1133, 2385, 36, 34], [1773, 2424, 94, 111],
];
const DASH_RECTS: [number, number, number, number][] = [
  [2223, 479, 2599, 544], [2293, 1035, 2672, 1101], [2305, 2305, 2684, 2371],
];

function Axes({ s }: { s: AxesSpec }) {
  const [x0, y0, x1, y1] = s.box;
  const x = d3.scaleLinear().domain(s.xDom).range([x0, x1]);
  const y = d3.scaleLinear().domain(s.yDom).range([y1, y0]);
  const straight = d3.line<Pt>().x((d) => x(d[0])).y((d) => y(d[1]));
  const smooth = d3.line<Pt>().x((d) => x(d[0])).y((d) => y(d[1])).curve(d3.curveMonotoneX);
  const weight = s.weight ?? 'bold';
  const boxW = s.tickLen > 20 ? 2.5 : 3;
  return (
    <g>
      {s.opaque && <rect x={x0} y={y0} width={x1 - x0} height={y1 - y0} fill="#fff" />}
      {s.xTicks.map((t) => (
        <line key={'gx' + t} x1={x(t)} x2={x(t)} y1={y0} y2={y1} stroke={GRID} strokeWidth={2} />
      ))}
      {s.yTicks.map((v) => (
        <line key={'gy' + v} x1={x0} x2={x1} y1={y(v)} y2={y(v)} stroke={GRID} strokeWidth={2} />
      ))}
      <clipPath id={'clip-' + s.id}>
        <rect x={x0} y={y0} width={x1 - x0} height={y1 - y0} />
      </clipPath>
      <g clipPath={`url(#clip-${s.id})`}>
        {s.series.map((sr, i) => (
          <g key={i}>
            {(sr.bands ?? []).map((b, j) => (
              <rect key={j} x={x(b[0])} y={y(b[3])} width={x(b[1]) - x(b[0])} height={y(b[2]) - y(b[3])} fill={sr.color} />
            ))}
            <path
              d={(sr.smooth ? smooth : straight)(sr.pts) ?? ''}
              fill="none"
              stroke={sr.color}
              strokeWidth={sr.width}
              strokeLinejoin="round"
            />
          </g>
        ))}
      </g>
      {s.xTicks.map((t) => (
        <g key={'tx' + t}>
          <line x1={x(t)} x2={x(t)} y1={y1} y2={y1 - s.tickLen} stroke={INK} strokeWidth={2.5} />
          <line x1={x(t)} x2={x(t)} y1={y0} y2={y0 + s.tickLen} stroke={INK} strokeWidth={2.5} />
          <text x={x(t)} y={y1 + 67} textAnchor="middle" fontFamily={SERIF} fontSize={s.font} fontWeight={weight} fill={INK}>
            {String(t)}
          </text>
        </g>
      ))}
      {s.yTicks.map((v) => (
        <g key={'ty' + v}>
          <line x1={x0} x2={x0 + s.tickLen} y1={y(v)} y2={y(v)} stroke={INK} strokeWidth={2.5} />
          <line x1={x1} x2={x1 - s.tickLen} y1={y(v)} y2={y(v)} stroke={INK} strokeWidth={2.5} />
          <text x={x0 - s.yGap} y={y(v) + s.font * 0.34} textAnchor="end" fontFamily={SERIF} fontSize={s.font} fontWeight={weight} fill={INK}>
            {String(v)}
          </text>
        </g>
      ))}
      <rect x={x0} y={y0} width={x1 - x0} height={y1 - y0} fill="none" stroke={INK} strokeWidth={boxW} />
    </g>
  );
}

function Arrow({ p, color }: { p: [number, number, number, number]; color: string }) {
  const [xa, ya, xb, yb] = p;
  const len = Math.hypot(xb - xa, yb - ya);
  const ux = (xb - xa) / len;
  const uy = (yb - ya) / len;
  const L = 40;
  const W = 12;
  const N = 30;
  const bx = xb - L * ux;
  const by = yb - L * uy;
  const head = `M${xb},${yb} L${bx - W * uy},${by + W * ux} L${xb - N * ux},${yb - N * uy} L${bx + W * uy},${by - W * ux} Z`;
  return (
    <g>
      <line x1={xa} y1={ya} x2={xb - N * ux} y2={yb - N * uy} stroke={color} strokeWidth={2.5} />
      <path d={head} fill={color} />
    </g>
  );
}

export default function App() {
  return (
    <svg
      width={4030}
      height={2750}
      viewBox="0 0 4030 2750"
      style={{ position: 'absolute', left: 0, top: 0, background: '#fff' }}
    >
      <rect x={0} y={0} width={4030} height={2750} fill="#fff" />
      {MAIN.map((m) => {
        const [x0, y0, x1, y1] = m.box;
        return (
          <g key={m.id}>
            <Axes s={m} />
            <text x={x0 + 9} y={y0 + 72} fontFamily={SERIF} fontSize={120} fontWeight="bold" fill="#000">
              {m.letter}
            </text>
            <text
              transform={`translate(${m.ylabelX},${(y0 + y1) / 2}) rotate(-90)`}
              textAnchor="middle"
              dominantBaseline="central"
              fontFamily={SERIF}
              fontSize={56}
              fontWeight="bold"
              fill={INK}
            >
              {m.ylabel}
            </text>
            <text x={(x0 + x1) / 2} y={m.xlabelY} textAnchor="middle" fontFamily={SERIF} fontSize={56} fontWeight="bold" fill={INK}>
              Time (s)
            </text>
          </g>
        );
      })}
      {LEGENDS.map((lg, i) => (
        <g key={'lg' + i}>
          <rect x={lg.box[0]} y={lg.box[1]} width={lg.box[2] - lg.box[0]} height={lg.box[3] - lg.box[1]} fill="#fff" stroke={INK} strokeWidth={2.5} />
          {LEGEND_NAMES.map((name, k) => (
            <g key={name}>
              <line x1={lg.lx[0]} x2={lg.lx[1]} y1={lg.rows[k]} y2={lg.rows[k]} stroke={k === 0 ? BLUE : RED} strokeWidth={lg.widths[k]} />
              <text x={lg.tx} y={lg.rows[k] + 17} fontFamily={SERIF} fontSize={48} fontWeight="bold" fill="#000">
                {name}
              </text>
            </g>
          ))}
        </g>
      ))}
      {INSETS.map((s) => (
        <Axes key={s.id} s={s} />
      ))}
      {ELLIPSES.map((e, i) => (
        <ellipse key={'el' + i} cx={e[0]} cy={e[1]} rx={e[2]} ry={e[3]} fill="none" stroke="#000" strokeWidth={2.5} strokeDasharray="8,6" />
      ))}
      {DASH_RECTS.map((r, i) => (
        <rect key={'dr' + i} x={r[0]} y={r[1]} width={r[2] - r[0]} height={r[3] - r[1]} fill="none" stroke="#000" strokeWidth={2.5} strokeDasharray="7,6" />
      ))}
      {ARROWS.map((a, i) => (
        <Arrow key={'ar' + i} p={a.p} color={a.color} />
      ))}
      {NOTES.map((n, i) => (
        <text
          key={'nt' + i}
          x={n.x}
          y={n.y}
          textLength={n.w}
          lengthAdjust="spacingAndGlyphs"
          fontFamily={NARROW}
          fontSize={40}
          fontWeight="bold"
          fill={n.color}
        >
          {n.text}
        </text>
      ))}
    </svg>
  );
}
